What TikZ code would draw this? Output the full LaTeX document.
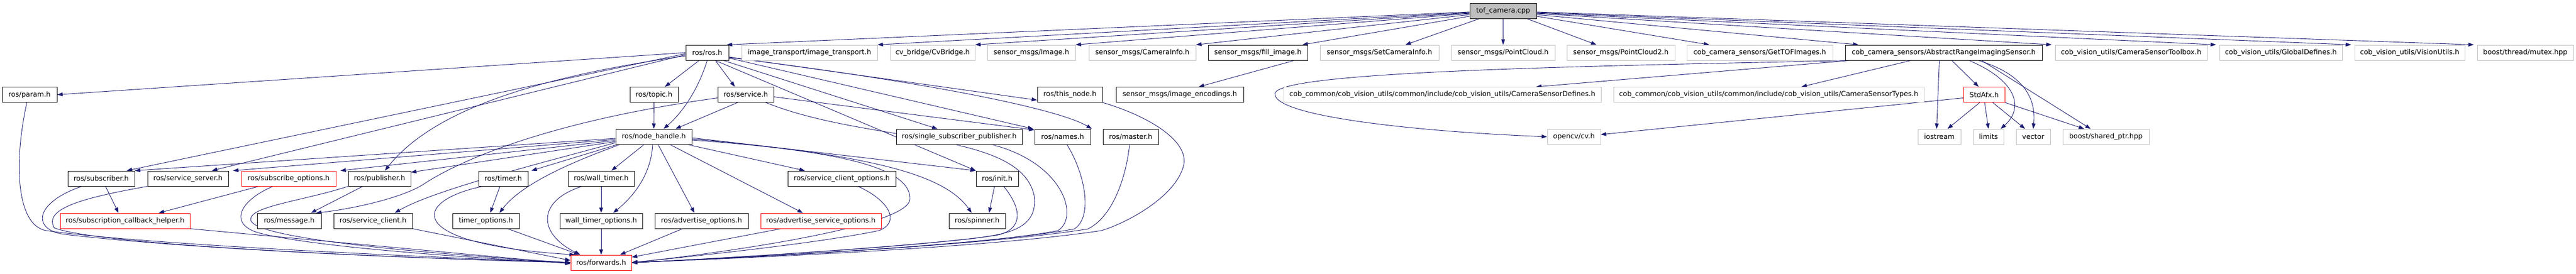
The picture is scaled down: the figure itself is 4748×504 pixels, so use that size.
\documentclass[tikz,border=0pt]{standalone}
\usepackage{fontspec}
\setmainfont{DejaVu Sans}
\usetikzlibrary{arrows.meta,backgrounds}
\definecolor{edgec}{RGB}{25,25,112}
\definecolor{grayb}{RGB}{191,191,191}
\definecolor{redb}{RGB}{255,0,0}
\definecolor{blkb}{RGB}{0,0,0}
\newcommand\dfont{\fontsize{12.8}{15}\selectfont}
\begin{document}
\begin{tikzpicture}[x=1pt,y=-1pt,
  bb/.style={draw=blkb, line width=1pt, minimum height=28pt, inner sep=0pt, font=\dfont, fill=white},
  gb/.style={bb, draw=grayb},
  rb/.style={bb, draw=redb},
  dep/.style={draw=edgec, line width=0.9pt, -{Triangle[length=10pt,width=7pt]}}]
\useasboundingbox (0,0) rectangle (4748,504);
% row 0
\node[bb, fill=grayb, minimum width=123pt] (tof) at (2770.5,20) {tof\_camera.cpp};
% row 1
\node[bb, minimum width=79pt]  (rosh)    at (1303.5,97) {ros/ros.h};
\node[gb, minimum width=250pt] (it)      at (1492,97) {image\_transport/image\_transport.h};
\node[gb, minimum width=156pt] (cvb)     at (1719,97) {cv\_bridge/CvBridge.h};
\node[gb, minimum width=162pt] (img)     at (1901,97) {sensor\_msgs/Image.h};
\node[gb, minimum width=197pt] (caminfo) at (2105.5,97) {sensor\_msgs/CameraInfo.h};
\node[bb, minimum width=183pt] (fill)    at (2318.5,97) {sensor\_msgs/fill\_image.h};
\node[gb, minimum width=219pt] (setcam)  at (2542.5,97) {sensor\_msgs/SetCameraInfo.h};
\node[gb, minimum width=191pt] (pc)      at (2770.5,97) {sensor\_msgs/PointCloud.h};
\node[gb, minimum width=199pt] (pc2)     at (2987.5,97) {sensor\_msgs/PointCloud2.h};
\node[gb, minimum width=269pt] (gettof)  at (3243.5,97) {cob\_camera\_sensors/GetTOFImages.h};
\node[bb, minimum width=363pt] (aris)    at (3582.5,97) {cob\_camera\_sensors/AbstractRangeImagingSensor.h};
\node[gb, minimum width=280pt] (cst)     at (3928,97) {cob\_vision\_utils/CameraSensorToolbox.h};
\node[gb, minimum width=226pt] (gd)      at (4204,97) {cob\_vision\_utils/GlobalDefines.h};
\node[gb, minimum width=203pt] (vu)      at (4441.5,97) {cob\_vision\_utils/VisionUtils.h};
\node[gb, minimum width=177pt] (mutex)   at (4654.5,97) {boost/thread/mutex.hpp};
% row 2
\node[bb, minimum width=101pt] (param)    at (54.5,174.5) {ros/param.h};
\node[bb, minimum width=89pt]  (topic)    at (1205.5,174.5) {ros/topic.h};
\node[bb, minimum width=103pt] (service)  at (1374.5,174.5) {ros/service.h};
\node[bb, minimum width=120pt] (thisnode) at (1972,174.5) {ros/this\_node.h};
\node[bb, minimum width=235pt] (enc)      at (2174.5,174.5) {sensor\_msgs/image\_encodings.h};
\node[gb, minimum width=585pt] (csd)      at (2658.5,174.5) {cob\_common/cob\_vision\_utils/common/include/cob\_vision\_utils/CameraSensorDefines.h};
\node[gb, minimum width=572pt] (cstypes)  at (3260,174.5) {cob\_common/cob\_vision\_utils/common/include/cob\_vision\_utils/CameraSensorTypes.h};
\node[rb, minimum width=76pt]  (stdafx)   at (3657,174.5) {StdAfx.h};
% row 3
\node[bb, minimum width=140pt] (nh)       at (1205,252) {ros/node\_handle.h};
\node[bb, minimum width=232pt] (ssp)      at (1768,252) {ros/single\_subscriber\_publisher.h};
\node[bb, minimum width=103pt] (names)    at (1958.5,252) {ros/names.h};
\node[bb, minimum width=102pt] (master)   at (2084,252) {ros/master.h};
\node[gb, minimum width=98pt]  (cv)       at (2901,252) {opencv/cv.h};
\node[gb, minimum width=79pt]  (iostream) at (3574.5,252) {iostream};
\node[gb, minimum width=56pt]  (limits)   at (3665,252) {limits};
\node[gb, minimum width=63pt]  (vector)   at (3747.5,252) {vector};
\node[gb, minimum width=159pt] (sptr)     at (3881.5,252) {boost/shared\_ptr.hpp};
% row 4
\node[bb, minimum width=123pt] (sub)    at (186.5,329) {ros/subscriber.h};
\node[bb, minimum width=149pt] (ss)     at (346.5,329) {ros/service\_server.h};
\node[rb, minimum width=174pt] (subopt) at (532,329) {ros/subscribe\_options.h};
\node[bb, minimum width=115pt] (pub)    at (699.5,329) {ros/publisher.h};
\node[bb, minimum width=91pt]  (timer)  at (927.5,329) {ros/timer.h};
\node[bb, minimum width=122pt] (wtimer) at (1108,329) {ros/wall\_timer.h};
\node[bb, minimum width=199pt] (sco)    at (1551.5,329) {ros/service\_client\_options.h};
\node[bb, minimum width=78pt]  (init)   at (1838,329) {ros/init.h};
% row 5
\node[rb, minimum width=239pt] (sch)   at (230.5,407) {ros/subscription\_callback\_helper.h};
\node[bb, minimum width=118pt] (msg)   at (533,407) {ros/message.h};
\node[bb, minimum width=145pt] (sc)    at (687.5,407) {ros/service\_client.h};
\node[bb, minimum width=123pt] (topt)  at (895.5,407) {timer\_options.h};
\node[bb, minimum width=152pt] (wtopt) at (1108,407) {wall\_timer\_options.h};
\node[bb, minimum width=172pt] (aopt)  at (1293,407) {ros/advertise\_options.h};
\node[rb, minimum width=222pt] (asopt) at (1513,407) {ros/advertise\_service\_options.h};
\node[bb, minimum width=104pt] (spin)  at (1801,407) {ros/spinner.h};
% row 6
\node[rb, minimum width=112pt] (fwd) at (1108,484) {ros/forwards.h};

\begin{scope}[on background layer]
% tof edges
\draw[dep] ([yshift=-2pt]tof.west) -- ([xshift=-4pt]rosh.north east);
\draw[dep] ([yshift=-3pt]tof.west) -- (it.north east);
\draw[dep] ([yshift=-4pt]tof.west) -- (cvb.north east);
\draw[dep] ([yshift=-5pt]tof.west) -- (img.north east);
\draw[dep] ([yshift=-7pt]tof.west) -- (caminfo.north east);
\draw[dep] ([yshift=-10pt]tof.west) -- ([xshift=-10pt]fill.north east);
\draw[dep] ([xshift=18pt]tof.south west) -- ([xshift=48pt]setcam.north);
\draw[dep] (tof.south) -- (pc.north);
\draw[dep] ([xshift=-18pt]tof.south east) -- ([xshift=-45pt]pc2.north);
\draw[dep] ([yshift=-10pt]tof.east) -- ([xshift=-93pt]gettof.north);
\draw[dep] ([yshift=-7pt]tof.east) -- ([xshift=25pt]aris.north west);
\draw[dep] ([yshift=-5pt]tof.east) -- ([xshift=-6pt]cst.north west);
\draw[dep] ([yshift=-4pt]tof.east) -- ([xshift=-6pt]gd.north west);
\draw[dep] ([yshift=-3pt]tof.east) -- ([xshift=-6pt]vu.north west);
\draw[dep] ([yshift=-2pt]tof.east) -- ([xshift=-6pt]mutex.north west);
\draw[dep] ([xshift=-25pt]fill.south east) -- ([xshift=35pt]enc.north);
% AbstractRangeImagingSensor
\draw[dep] (aris) -- (csd);
\draw[dep] (aris) -- (cstypes);
\draw[dep] ([xshift=12pt]aris.south west) .. controls (2900,122) and (2360,132) .. (2350,172) .. controls (2345,215) and (2620,243) .. (cv.west);
\draw[dep] ([xshift=-8pt]aris.south) -- ([xshift=-5pt]iostream.north);
\draw[dep] ([xshift=15pt]aris.south) -- ([xshift=-10pt]stdafx.north);
\draw[dep] ([xshift=47pt]aris.south) .. controls (3720,150) and (3730,200) .. ([xshift=-6pt]limits.north east);
\draw[dep] ([xshift=64pt]aris.south) .. controls (3740,140) and (3752,190) .. (vector.north);
\draw[dep] ([xshift=70pt]aris.south) -- ([xshift=-28pt]sptr.north);
% StdAfx
\draw[dep] ([xshift=-8pt]stdafx.south) -- ([xshift=15pt]iostream.north);
\draw[dep] ([xshift=1pt]stdafx.south) -- (limits.north);
\draw[dep] ([xshift=16pt]stdafx.south) -- ([xshift=-15pt]vector.north);
\draw[dep] (stdafx.south east) -- ([xshift=-40pt]sptr.north);
\draw[dep] ([yshift=-6pt]stdafx.west) -- ([yshift=4pt]cv.east);
% ros.h
\draw[dep] (rosh.west) -- (param.east);
\draw[dep] ([yshift=-2pt]rosh.west) -- ([xshift=47pt]sub.north);
\draw[dep] ([yshift=-4pt]rosh.west) -- ([xshift=44pt]ss.north);
\draw[dep] ([yshift=-6pt]rosh.west) .. controls (1000,140) and (800,200) .. ([xshift=10pt]pub.north);
\draw[dep] ([xshift=-15pt]rosh.south) -- ([xshift=20pt]topic.north);
\draw[dep] (rosh.south) .. controls (1285,170) and (1255,210) .. ([xshift=18pt]nh.north);
\draw[dep] ([xshift=15pt]rosh.south) -- ([xshift=-20pt]service.north);
\draw[dep] ([yshift=-8pt]rosh.east) -- ([yshift=-10pt]thisnode.west);
\draw[dep] ([yshift=-9pt]rosh.east) .. controls (1700,150) and (1950,200) .. ([xshift=-20pt]master.north west);
\draw[dep] ([yshift=-10pt]rosh.east) -- ([xshift=-2pt]names.north west);
\draw[dep] ([xshift=-10pt]rosh.south east) -- ([xshift=-40pt]ssp.north);
\draw[dep] ([xshift=-25pt]rosh.south east) -- (init.north west);
% topic, service
\draw[dep] (topic) -- (nh);
\draw[dep] ([xshift=-15pt]service.south) -- ([xshift=40pt]nh.north);
\draw[dep] ([yshift=-4pt]service.east) -- ([yshift=-2pt]names.north west);
\draw[dep] ([yshift=-6pt]service.west) .. controls (1000,225) and (840,300) .. (780,340) .. controls (740,365) and (650,385) .. ([xshift=-10pt]msg.north east);
\draw[dep] ([xshift=-15pt]service.south east) .. controls (1600,265) and (1880,240) .. (1906,360) .. controls (1915,425) and (1850,432) .. (1790,440) .. controls (1600,460) and (1300,478) .. (fwd.east);
% node_handle
\draw[dep] ([yshift=-3pt]nh.west) -- (sub.north east);
\draw[dep] ([yshift=-5pt]nh.west) -- ([xshift=8pt]ss.north east);
\draw[dep] ([yshift=-7pt]nh.west) -- ([xshift=8pt]subopt.north east);
\draw[dep] ([yshift=-9pt]nh.west) -- ([yshift=-3pt]pub.north east);
\draw[dep] ([yshift=-11pt]nh.west) .. controls (1000,300) and (800,350) .. ([xshift=40pt]sc.north);
\draw[dep] ([xshift=3pt]nh.south west) -- ([xshift=6pt]timer.north east);
\draw[dep] ([xshift=8pt]nh.south west) .. controls (1050,300) and (960,340) .. ([xshift=25pt]topt.north);
\draw[dep] ([xshift=-18pt]nh.south) -- ([xshift=19pt]wtimer.north);
\draw[dep] ([xshift=-2pt]nh.south) .. controls (1200,320) and (1170,360) .. ([xshift=22pt]wtopt.north);
\draw[dep] ([xshift=8pt]nh.south) -- ([xshift=-13pt]aopt.north);
\draw[dep] ([xshift=30pt]nh.south) -- ([xshift=-33pt]asopt.north);
\draw[dep] ([xshift=-8pt]nh.south east) -- ([xshift=-68pt]sco.north);
\draw[dep] ([yshift=-2pt]nh.east) -- (init.north west);
\draw[dep] ([yshift=-4pt]nh.east) .. controls (1600,285) and (1740,320) .. ([xshift=-10pt]spin.north);
\draw[dep] ([yshift=-6pt]nh.east) .. controls (1500,275) and (1680,300) .. (1677,367) .. controls (1675,420) and (1300,470) .. (fwd.east);
% row 4 and 5
\draw[dep] ([xshift=8pt]sub.south) -- ([xshift=-12pt]sch.north);
\draw[dep] ([xshift=-55pt]subopt.south) -- ([xshift=62pt]sch.north);
\draw[dep] ([xshift=-31pt]pub.south) -- ([xshift=40pt]msg.north);
\draw[dep] ([xshift=-6pt]timer.south) -- ([xshift=8pt]topt.north);
\draw[dep] (wtimer) -- (wtopt);
\draw[dep] ([xshift=-5pt]init.south) -- ([xshift=22pt]spin.north);
% to forwards
\draw[dep] ([xshift=-5pt]param.south) .. controls (25,300) and (30,415) .. (85,425) .. controls (300,455) and (900,478) .. (fwd.west);
\draw[dep] ([xshift=-36pt]sub.south) .. controls (60,375) and (60,425) .. (120,432) .. controls (400,465) and (900,480) .. (fwd.west);
\draw[dep] (ss.south west) .. controls (150,365) and (80,385) .. (100,420) .. controls (200,458) and (900,480) .. (fwd.west);
\draw[dep] ([xshift=-29pt]subopt.south) .. controls (440,370) and (420,415) .. (480,430) .. controls (600,460) and (950,480) .. (fwd.west);
\draw[dep] (pub.south west) .. controls (560,370) and (460,380) .. (462,405) .. controls (465,435) and (700,462) .. (fwd.west);
\draw[dep] (sch.south east) -- ([yshift=-2pt]fwd.west);
\draw[dep] (sc.south east) -- ([yshift=4pt]fwd.west);
\draw[dep] ([xshift=8pt]timer.south west) .. controls (760,370) and (740,450) .. ([xshift=8pt]fwd.north west);
\draw[dep] (topt) -- (fwd);
\draw[dep] ([xshift=26pt]wtimer.south west) .. controls (990,370) and (990,430) .. ([xshift=18pt]fwd.north west);
\draw[dep] (wtopt) -- (fwd);
\draw[dep] (aopt) -- (fwd);
\draw[dep] ([xshift=38pt]asopt.south west) -- ([yshift=10pt]fwd.east);
\draw[dep] ([xshift=30pt]sco.south) .. controls (1640,370) and (1660,410) .. (1620,425) .. controls (1500,450) and (1250,475) .. (fwd.east);
\draw[dep] ([xshift=12pt]init.south) .. controls (1880,380) and (1890,420) .. (1840,433) .. controls (1700,455) and (1300,478) .. (fwd.east);
\draw[dep] ([xshift=60pt]ssp.south) .. controls (1960,300) and (1990,400) .. (1950,425) .. controls (1800,455) and (1300,478) .. (fwd.east);
\draw[dep] ([xshift=8pt]names.south) .. controls (2000,320) and (2015,400) .. (1980,422) .. controls (1800,455) and (1300,478) .. (fwd.east);
\draw[dep] ([xshift=-2pt]master.south) .. controls (2075,330) and (2050,400) .. (2005,422) .. controls (1800,455) and (1300,478) .. (fwd.east);
\draw[dep] (thisnode.south east) .. controls (2120,215) and (2190,260) .. (2182,303) .. controls (2170,360) and (2080,410) .. (2030,425) .. controls (1800,460) and (1300,478) .. (fwd.east);
\end{scope}
\end{tikzpicture}
\end{document}
